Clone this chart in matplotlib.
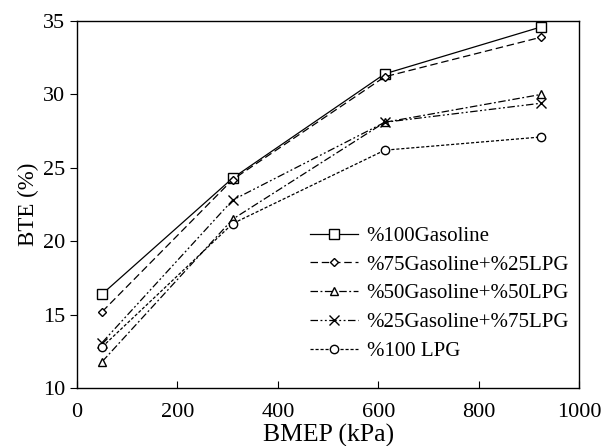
import matplotlib
matplotlib.use('Agg')
import matplotlib.pyplot as plt

plt.rcParams['font.family'] = ['Liberation Serif', 'DejaVu Serif']

# BMEP (kPa)
bmep = [50, 310, 613, 925]

# BTE (%) for each fuel blend
gas100 = [16.4, 24.3, 31.4, 34.6]
gas75_lpg25 = [15.2, 24.2, 31.2, 33.9]
gas50_lpg50 = [11.8, 21.5, 28.1, 30.0]
gas25_lpg75 = [13.1, 22.8, 28.1, 29.4]
lpg100 = [12.8, 21.2, 26.2, 27.1]

labels = ['%100Gasoline', '%75Gasoline+%25LPG', '%50Gasoline+%50LPG',
          '%25Gasoline+%75LPG', '%100 LPG']

fig = plt.figure(figsize=(6.07, 4.46), dpi=100)
ax = fig.add_axes([0.127, 0.130, 0.827, 0.823])

lw = 0.9
ax.plot(bmep, gas100, color='black', linestyle='-', lw=lw, marker='s',
        markersize=7, markerfacecolor='white', markeredgecolor='black', label=labels[0])
ax.plot(bmep, gas75_lpg25, color='black', linestyle=(0, (6, 3)), lw=lw, marker='D',
        markersize=4.5, markerfacecolor='white', markeredgecolor='black', label=labels[1])
ax.plot(bmep, gas50_lpg50, color='black', linestyle=(0, (6, 2, 1.5, 2)), lw=lw, marker='^',
        markersize=6, markerfacecolor='white', markeredgecolor='black', label=labels[2])
ax.plot(bmep, gas25_lpg75, color='black', linestyle=(0, (6, 2, 1.5, 2, 1.5, 2)), lw=lw, marker='x',
        markersize=7, markerfacecolor='white', markeredgecolor='black', label=labels[3])
ax.plot(bmep, lpg100, color='black', linestyle=(0, (2.5, 1.5)), lw=lw, marker='o',
        markersize=6, markerfacecolor='white', markeredgecolor='black', label=labels[4])

ax.set_xlim(0, 1000)
ax.set_ylim(10, 35)
ax.set_xticks([0, 200, 400, 600, 800, 1000])
ax.set_yticks([10, 15, 20, 25, 30, 35])
ax.tick_params(axis='x', direction='in', length=5, labelsize=16, pad=11)
ax.tick_params(axis='y', direction='out', length=5, labelsize=16)
ax.set_xlabel('BMEP (kPa)', fontsize=18.5, labelpad=1)
ax.set_ylabel('BTE (%)', fontsize=16.5, labelpad=3)

for s in ax.spines.values():
    s.set_linewidth(1.0)

ax.legend(loc='lower right', bbox_to_anchor=(1.005, 0.04), frameon=False, fontsize=15,
          handlelength=2.3, handletextpad=0.4, labelspacing=0.44, borderaxespad=0.2)

fig.savefig('out.png', dpi=100)
